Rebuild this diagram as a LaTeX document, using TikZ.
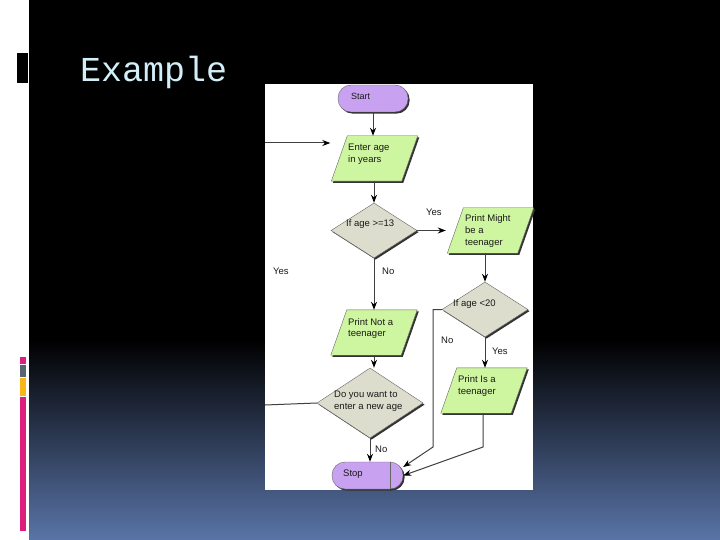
\documentclass[tikz,border=0pt]{standalone}
\usepackage{fontspec}
\setmainfont{Liberation Sans}
\newfontfamily\titlefont{Liberation Mono}
\usetikzlibrary{shapes.geometric,shadows,arrows.meta}
\definecolor{slideblue}{RGB}{90,116,168}
\definecolor{titlecol}{RGB}{210,238,248}
\definecolor{termfill}{RGB}{200,162,240}
\definecolor{iofill}{RGB}{206,245,160}
\definecolor{decfill}{RGB}{221,221,206}
\definecolor{barpink}{RGB}{222,30,125}
\definecolor{bargray}{RGB}{90,100,112}
\definecolor{baryellow}{RGB}{247,183,24}
\newcommand\drawpara[1]{\path[iopath] ([xshift=16bp]#1.north west) -- (#1.north east) -- ([xshift=-16bp]#1.south east) -- (#1.south west) -- cycle;}
\begin{document}
\begin{tikzpicture}[x=1bp,y=-1bp,
  shadowed/.style={general shadow={fill=black!80, shadow xshift=1.6bp, shadow yshift=-1.6bp}},
  term/.style={draw=black!60, fill=termfill, rounded corners=13bp, minimum width=70bp, minimum height=27bp, inner sep=0pt, shadowed},
  io/.style={rectangle, draw=none, minimum width=86bp, minimum height=45bp, inner sep=0pt},
  iopath/.style={draw=black!60, fill=iofill, shadowed},
  dec/.style={diamond, draw=black!60, fill=decfill, inner sep=0pt, shadowed},
  lbl/.style={font=\fontsize{9.5bp}{12bp}\selectfont, text=black!90, inner sep=0pt, anchor=west, text height=6.8bp, text depth=2bp},
  arr/.style={draw=black!75, line width=1bp, -{Stealth[length=8bp,width=6bp,color=black]}},
  conn/.style={draw=black!75, line width=1bp}]
\useasboundingbox (0,0) rectangle (720,540);
% slide background
\fill[white] (0,0) rectangle (29,540);
\fill[black] (29,0) rectangle (720,540);
\shade[top color=black, bottom color=slideblue] (29,340) rectangle (720,540);
\fill[black] (17,53) rectangle (28,83);
\fill[barpink] (19.5,357) rectangle (26,364);
\fill[bargray] (19.5,365) rectangle (26,377);
\fill[baryellow] (19.5,377.5) rectangle (26,396);
\fill[barpink] (19.5,397) rectangle (26,531);
\node[anchor=base west, inner sep=0pt, text=titlecol, font=\titlefont\fontsize{35bp}{40bp}\selectfont] (title) at (80,82) {Example};
% flowchart picture
\fill[white] (265,84) rectangle (533,490);

\node[term] (start) at (373,98.5) {};
\node[io] (enter) at (374.5,158.5) {};
\drawpara{enter}
\node[dec, minimum width=86bp, minimum height=55bp] (d1) at (374,230.5) {};
\node[io] (pm) at (490.5,230.5) {};
\drawpara{pm}
\node[dec, minimum width=86bp, minimum height=55bp] (d2) at (485,309.5) {};
\node[io] (pn) at (374,332.5) {};
\drawpara{pn}
\node[io] (pi) at (484,390.5) {};
\drawpara{pi}
\node[dec, minimum width=106bp, minimum height=70bp] (d3) at (370,403) {};
\node[term, minimum width=71bp] (stop) at (367.5,475.5) {};
\draw[black!60, line width=0.6bp] ([xshift=-13bp]stop.north east) -- ([xshift=-13bp]stop.south east);

% texts
\node[lbl, font=\fontsize{9bp}{12bp}\selectfont] (tstart) at (351,97) {Start};
\node[lbl] (tenter1) at (348,148) {Enter age};
\node[lbl] (tenter2) at (348,160) {in years};
\node[lbl] (td1) at (346,224) {If age >=13};
\node[lbl] (tpm1) at (465,219) {Print Might};
\node[lbl] (tpm2) at (465,231) {be a};
\node[lbl] (tpm3) at (465,243) {teenager};
\node[lbl] (td2) at (453,304) {If age <20};
\node[lbl] (tpn1) at (348,323) {Print Not a};
\node[lbl] (tpn2) at (348,334) {teenager};
\node[lbl] (tpi1) at (458,380) {Print Is a};
\node[lbl] (tpi2) at (458,392) {teenager};
\node[lbl] (td31) at (334,395) {Do you want to};
\node[lbl] (td32) at (334,407) {enter a new age};
\node[lbl] (tstop) at (343,474) {Stop};
\node[lbl] (yes1) at (426,213) {Yes};
\node[lbl] (yes2) at (273,272) {Yes};
\node[lbl] (no1) at (382,272) {No};
\node[lbl] (no2) at (441,341) {No};
\node[lbl] (yes3) at (492,352) {Yes};
\node[lbl] (no3) at (375,450) {No};

% connectors
\coordinate (loopin) at (265,143);
\coordinate (loopout) at (265,405);
\coordinate (c1) at (433,447);
\coordinate (c2) at (483,447);
\draw[arr] (start) -- (start |- enter.north);
\draw[arr, shorten >=1bp] (loopin) -- (loopin -| enter.west);
\draw[arr] (d1.north |- enter.south) -- (d1.north);
\draw[arr, shorten >=1.5bp] (d1.east) -- (pm.west);
\draw[arr] (d2.north |- pm.south) -- (d2.north);
\draw[arr] (d1.south) -- (d1.south |- pn.north);
\draw[arr] (d2.south) -- (d2.south |- pi.north);
\draw[arr] (pn.south) -- (pn.south |- d3.north);
\draw[arr] (d3.south) -- (d3.south |- stop.north);
\draw[conn] (d3.west) -- (loopout);
\draw[arr] (d2.west) -| (c1) -- ([yshift=8.5bp]stop.east);
\draw[arr] (c2 |- pi.south) -- (c2) -- (stop.east);
\end{tikzpicture}
\end{document}
